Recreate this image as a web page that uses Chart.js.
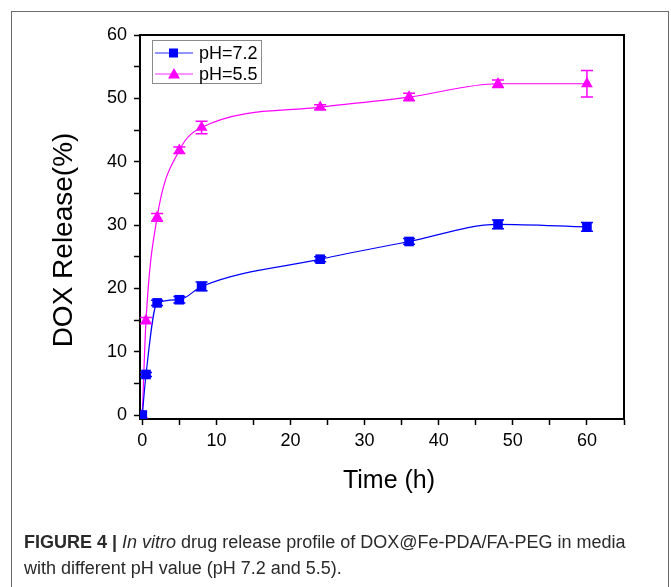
<!DOCTYPE html>
<html>
<head>
<meta charset="utf-8">
<script src="https://cdn.jsdelivr.net/npm/chart.js@4.4.1/dist/chart.umd.min.js"></script>
<style>
  html, body { margin: 0; padding: 0; background: #fff; }
  #wrap { position: relative; width: 671px; height: 587px; overflow: hidden; }
  #frame { position: absolute; left: 11px; top: 11px; width: 656px; height: 600px; border: 1px solid #6b6b6b; }
  #c { position: absolute; left: 0; top: 0; }
  #cap { position: absolute; left: 24px; top: 529px; width: 640px; font-family: "Liberation Sans Narrow", "Liberation Sans", Arial, sans-serif; font-size: 18px; line-height: 26px; color: #2a2a2a; }
</style>
</head>
<body>
<div id="wrap">
  <div id="frame"></div>
  <canvas id="c" width="671" height="587"></canvas>
  <div id="cap"><b>FIGURE 4 |</b> <i>In vitro</i> drug release profile of DOX@Fe-PDA/FA-PEG in media<br>with different pH value (pH 7.2 and 5.5).</div>
</div>
<script>
// ---- data ----
const timeHours = [0, 0.5, 2, 5, 8, 24, 36, 48, 60];
const releasePH72 = [0, 6.4, 17.7, 18.2, 20.3, 24.6, 27.4, 30.1, 29.7];
const errorPH72 = [0, 0.3, 0.4, 0.5, 0.7, 0.4, 0.45, 0.7, 0.7];
const releasePH55 = [0, 14.9, 31.2, 41.8, 45.4, 48.6, 50.2, 52.3, 52.3];
const errorPH55 = [0, 0.5, 0.6, 0.5, 1.0, 0.4, 0.6, 0.6, 2.1];
const seriesLabels = ['pH=7.2', 'pH=5.5'];
const xTickValues = [0, 5, 10, 15, 20, 25, 30, 35, 40, 45, 50, 55, 60, 65];
const yTickValues = [0, 5, 10, 15, 20, 25, 30, 35, 40, 45, 50, 55, 60];
const xTitle = 'Time (h)';
const yTitle = 'DOX Release(%)';

const BLUE = '#0000ff';
const MAG = '#ff00ff';
const FONT = 'Arial, "Liberation Sans", sans-serif';

function toPts(xs, ys) { return xs.map((x, i) => ({ x: x, y: ys[i] })); }

const errorBars = {
  id: 'errorBars',
  afterDatasetsDraw(chart) {
    const ctx = chart.ctx;
    const xs = chart.scales.x, ys = chart.scales.y;
    chart.data.datasets.forEach(ds => {
      if (!ds.errors) return;
      ctx.save();
      ctx.strokeStyle = ds.borderColor;
      ctx.lineWidth = 1.5;
      ds.data.forEach((p, i) => {
        const e = ds.errors[i];
        if (!e) return;
        const px = xs.getPixelForValue(p.x);
        const top = ys.getPixelForValue(p.y + e);
        const bot = ys.getPixelForValue(p.y - e);
        const hw = 6;
        ctx.beginPath();
        ctx.moveTo(px, top); ctx.lineTo(px, bot);
        ctx.moveTo(px - hw, top); ctx.lineTo(px + hw, top);
        ctx.moveTo(px - hw, bot); ctx.lineTo(px + hw, bot);
        ctx.stroke();
      });
      ctx.restore();
    });
  }
};

const frameAndText = {
  id: 'frameAndText',
  afterDraw(chart) {
    const ctx = chart.ctx;
    const a = chart.chartArea;
    ctx.save();
    // mirrored axes (top and right)
    ctx.strokeStyle = '#000';
    ctx.lineWidth = 2;
    ctx.beginPath();
    ctx.moveTo(a.left, a.top); ctx.lineTo(a.right, a.top); ctx.lineTo(a.right, a.bottom);
    ctx.stroke();
    // axis titles
    ctx.fillStyle = '#000';
    ctx.textAlign = 'center';
    ctx.textBaseline = 'middle';
    ctx.font = '25px ' + FONT;
    ctx.fillText(xTitle, 389, 481);
    ctx.save();
    ctx.translate(64, 240);
    ctx.rotate(-Math.PI / 2);
    ctx.font = '28px ' + FONT;
    ctx.fillText(yTitle, 0, 0);
    ctx.restore();
    // legend
    const lx = 152, ly = 40, lw = 109, lh = 43;
    ctx.fillStyle = '#fff';
    ctx.fillRect(lx, ly, lw, lh);
    ctx.strokeStyle = '#8a8a8a';
    ctx.lineWidth = 1;
    ctx.strokeRect(lx + 0.5, ly + 0.5, lw, lh);
    const rows = [53, 74];
    chart.data.datasets.forEach((ds, i) => {
      const y = rows[i];
      ctx.strokeStyle = ds.legendLine;
      ctx.lineWidth = 1.5;
      ctx.beginPath(); ctx.moveTo(155, y); ctx.lineTo(193, y); ctx.stroke();
      ctx.fillStyle = ds.borderColor;
      if (ds.pointStyle === 'rect') {
        ctx.fillRect(169, y - 4.5, 9, 9);
      } else {
        ctx.beginPath();
        ctx.moveTo(174, y - 6); ctx.lineTo(180, y + 4.5); ctx.lineTo(168, y + 4.5);
        ctx.closePath(); ctx.fill();
      }
      ctx.fillStyle = '#000';
      ctx.textAlign = 'left';
      ctx.font = '18px ' + FONT;
      ctx.fillText(ds.label, 199, y + 1);
    });
    ctx.restore();
  }
};

function axisTicks(values) {
  return function (scale) { scale.ticks = values.map(v => ({ value: v })); };
}

const chart = new Chart(document.getElementById('c'), {
  type: 'line',
  data: {
    datasets: [
      {
        label: seriesLabels[0],
        data: toPts(timeHours, releasePH72),
        errors: errorPH72,
        borderColor: BLUE,
        backgroundColor: BLUE,
        legendLine: '#7070ff',
        borderWidth: 1.2,
        pointStyle: 'rect',
        pointRadius: 6.8,
        pointHoverRadius: 6.8,
        pointBorderWidth: 0,
        cubicInterpolationMode: 'monotone',
        fill: false
      },
      {
        label: seriesLabels[1],
        data: toPts(timeHours, releasePH55),
        errors: errorPH55,
        borderColor: MAG,
        backgroundColor: MAG,
        legendLine: '#ff70ff',
        borderWidth: 1.2,
        pointStyle: 'triangle',
        pointRadius: 6.8,
        pointHoverRadius: 6.8,
        pointBorderWidth: 0,
        cubicInterpolationMode: 'monotone',
        fill: false
      }
    ]
  },
  options: {
    responsive: false,
    animation: false,
    devicePixelRatio: 1,
    layout: { padding: { left: 0, right: 47, top: 35, bottom: 0 } },
    plugins: { legend: { display: false }, tooltip: { enabled: false } },
    scales: {
      x: {
        type: 'linear',
        min: -0.31,
        max: 65,
        afterBuildTicks: axisTicks(xTickValues),
        afterFit(scale) { scale.height = 168; },
        ticks: {
          autoSkip: false,
          maxRotation: 0,
          padding: 5,
          color: '#000',
          font: { family: FONT, size: 18 },
          callback: v => (v % 10 === 0 && v <= 60) ? String(v) : ''
        },
        grid: { display: true, drawOnChartArea: false, drawTicks: true, tickLength: 6, tickWidth: 1.5, tickColor: '#000' },
        border: { display: true, color: '#000', width: 2 },
        title: { display: false }
      },
      y: {
        type: 'linear',
        min: -0.63,
        max: 60,
        afterBuildTicks: axisTicks(yTickValues),
        afterFit(scale) { scale.width = 140; },
        ticks: {
          autoSkip: false,
          padding: 7,
          color: '#000',
          font: { family: FONT, size: 18 },
          callback: v => (v % 10 === 0) ? String(v) : ''
        },
        grid: { display: true, drawOnChartArea: false, drawTicks: true, tickLength: 6, tickWidth: 1.5, tickColor: '#000' },
        border: { display: true, color: '#000', width: 2 },
        title: { display: false }
      }
    }
  },
  plugins: [errorBars, frameAndText]
});
</script>
</body>
</html>
